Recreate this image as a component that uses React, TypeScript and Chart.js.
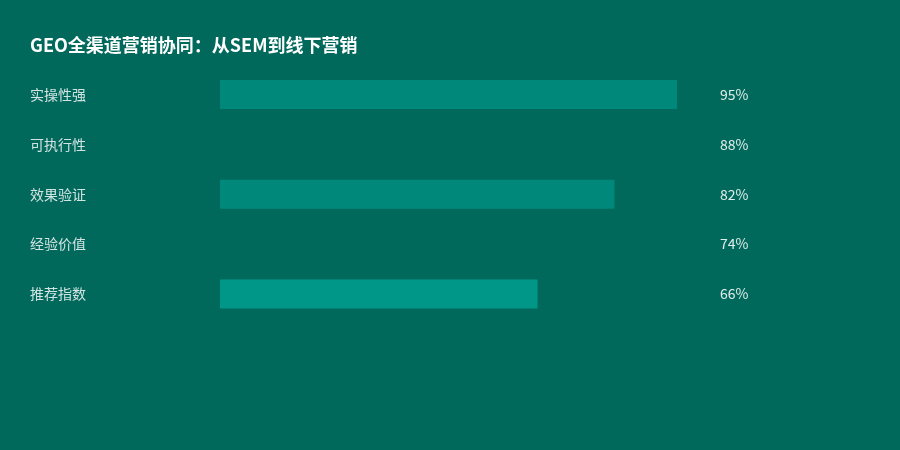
import { useRef, useEffect } from 'react';
import { Chart, registerables } from 'chart.js';
import type { Chart as ChartType, Plugin } from 'chart.js';

Chart.register(...registerables);

const titleText = 'GEO全渠道营销协同：从SEM到线下营销';
const categories = ['实操性强', '可执行性', '效果验证', '经验价值', '推荐指数'];
const scores = [95, 88, 82, 74, 66];
const barColors = ['#00897B', '#00695C', '#00897B', '#00695C', '#009688'];

const BG = '#00695C';
const FONT = '"Noto Sans CJK SC", "Noto Sans", sans-serif';

// 右侧百分比数值
const valueLabels: Plugin<'bar'> = {
  id: 'valueLabels',
  afterDatasetsDraw(chart) {
    const { ctx, chartArea, scales } = chart;
    const yScale = scales.y;
    ctx.save();
    ctx.fillStyle = 'rgba(255,255,255,0.88)';
    ctx.font = `14px ${FONT}`;
    ctx.textAlign = 'left';
    ctx.textBaseline = 'middle';
    scores.forEach((v, i) => {
      ctx.fillText(`${v}%`, chartArea.right + 19, yScale.getPixelForValue(i));
    });
    ctx.restore();
  },
};

const App = () => {
  const canvasRef = useRef<HTMLCanvasElement | null>(null);
  const chartInstance = useRef<ChartType | null>(null);

  useEffect(() => {
    document.body.style.margin = '0';
    const canvas = canvasRef.current;
    if (!canvas) return;
    const ctx = canvas.getContext('2d');
    if (!ctx) return;

    chartInstance.current = new Chart(ctx, {
      type: 'bar',
      data: {
        labels: categories,
        datasets: [
          {
            data: scores,
            backgroundColor: barColors,
            borderWidth: 0,
            barPercentage: 0.58,
            categoryPercentage: 1,
          },
        ],
      },
      options: {
        indexAxis: 'y',
        animation: false,
        responsive: true,
        maintainAspectRatio: false,
        layout: { padding: { top: 34, left: 30, right: 199, bottom: 131 } },
        plugins: {
          legend: { display: false },
          tooltip: { enabled: false },
          title: {
            display: true,
            text: titleText,
            align: 'start',
            color: '#ffffff',
            font: { family: FONT, size: 18, weight: 'bold' },
            padding: { top: 0, bottom: 14 },
          },
        },
        scales: {
          x: { display: false, min: 0, max: 100 },
          y: {
            grid: { display: false },
            border: { display: false },
            ticks: {
              color: 'rgba(255,255,255,0.82)',
              font: { family: FONT, size: 14 },
              crossAlign: 'far',
            },
            afterFit: (axis) => {
              axis.width = 190;
            },
          },
        },
      },
      plugins: [valueLabels],
    });

    return () => {
      chartInstance.current?.destroy();
      chartInstance.current = null;
    };
  }, []);

  return (
    <div style={{ width: 900, height: 450, background: BG }}>
      <canvas ref={canvasRef} />
    </div>
  );
};

export default App;
